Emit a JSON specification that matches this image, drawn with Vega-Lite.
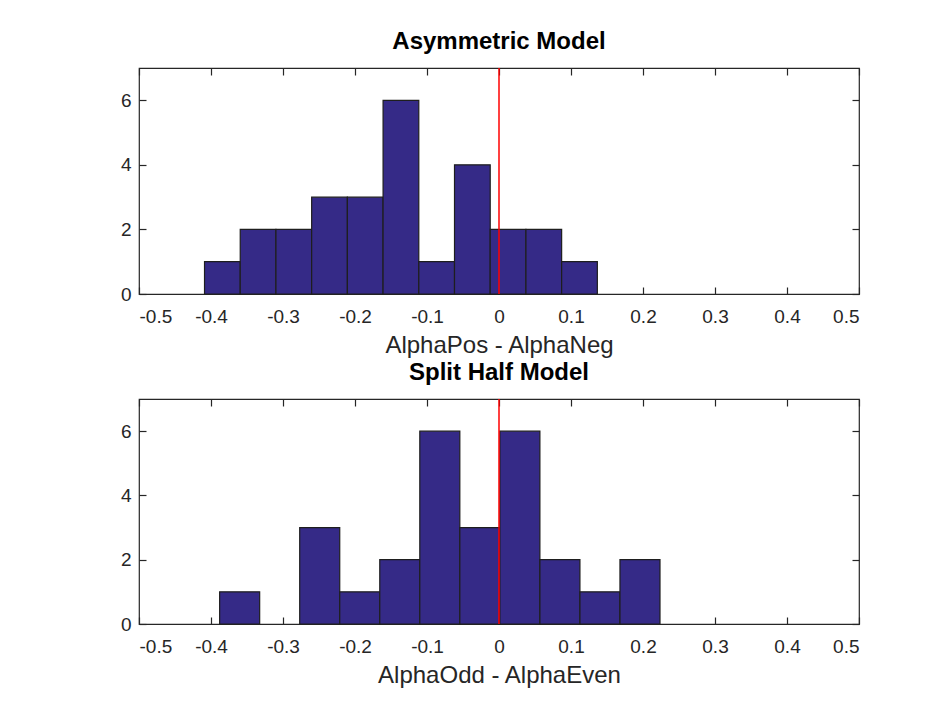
{
  "$schema": "https://vega.github.io/schema/vega-lite/v6.json",
  "background": "white",
  "padding": {"left": 119, "top": 29, "right": 10, "bottom": 5},
  "datasets": {
    "asym": [
      {"bin_start": -0.409, "bin_end": -0.3594, "count": 1},
      {"bin_start": -0.3594, "bin_end": -0.3098, "count": 2},
      {"bin_start": -0.3098, "bin_end": -0.2602, "count": 2},
      {"bin_start": -0.2602, "bin_end": -0.2106, "count": 3},
      {"bin_start": -0.2106, "bin_end": -0.161, "count": 3},
      {"bin_start": -0.161, "bin_end": -0.1114, "count": 6},
      {"bin_start": -0.1114, "bin_end": -0.0618, "count": 1},
      {"bin_start": -0.0618, "bin_end": -0.0122, "count": 4},
      {"bin_start": -0.0122, "bin_end": 0.0374, "count": 2},
      {"bin_start": 0.0374, "bin_end": 0.087, "count": 2},
      {"bin_start": 0.087, "bin_end": 0.1366, "count": 1}
    ],
    "split": [
      {"bin_start": -0.388, "bin_end": -0.3324, "count": 1},
      {"bin_start": -0.2768, "bin_end": -0.2212, "count": 3},
      {"bin_start": -0.2212, "bin_end": -0.1656, "count": 1},
      {"bin_start": -0.1656, "bin_end": -0.11, "count": 2},
      {"bin_start": -0.11, "bin_end": -0.0544, "count": 6},
      {"bin_start": -0.0544, "bin_end": 0.0012, "count": 3},
      {"bin_start": 0.0012, "bin_end": 0.0568, "count": 6},
      {"bin_start": 0.0568, "bin_end": 0.1124, "count": 2},
      {"bin_start": 0.1124, "bin_end": 0.168, "count": 1},
      {"bin_start": 0.168, "bin_end": 0.2236, "count": 2}
    ],
    "refline": [
      {"ref": 0, "lo": 0, "hi": 7}
    ]
  },
  "vconcat": [
    {
      "title": "Asymmetric Model",
      "width": 720,
      "height": 226,
      "layer": [
        {
          "data": {"name": "asym"},
          "mark": {"type": "rect", "fill": "#352a87", "stroke": "#1e1e1e", "strokeWidth": 1.2},
          "encoding": {
            "x": {"field": "bin_start", "type": "quantitative", "scale": {"domain": [-0.5, 0.5], "nice": false, "zero": false},
                  "axis": {"orient": "bottom", "title": "AlphaPos - AlphaNeg", "values": [-0.5,-0.4,-0.3,-0.2,-0.1,0,0.1,0.2,0.3,0.4,0.5],
                           "labelExpr": "replace(format(datum.value, '.1~f'), '\u2212', '-')"}},
            "x2": {"field": "bin_end"},
            "y": {"field": "count", "type": "quantitative", "scale": {"domain": [0, 7], "nice": false},
                  "axis": {"orient": "left", "title": null, "values": [0, 2, 4, 6], "labelPadding": 15}},
            "y2": {"datum": 0}
          }
        },
        {
          "data": {"name": "refline"},
          "mark": {"type": "rule", "color": "#ff0000", "strokeWidth": 1.5},
          "encoding": {
            "x": {"field": "ref", "type": "quantitative", "axis": {"orient": "top", "title": null, "labels": false, "values": [-0.5,-0.4,-0.3,-0.2,-0.1,0,0.1,0.2,0.3,0.4,0.5]}},
            "y": {"field": "lo", "type": "quantitative", "axis": {"orient": "right", "title": null, "labels": false, "values": [0, 2, 4, 6]}},
            "y2": {"field": "hi"}
          }
        }
      ],
      "resolve": {"axis": {"x": "independent", "y": "independent"}}
    },
    {
      "title": "Split Half Model",
      "width": 720,
      "height": 225,
      "layer": [
        {
          "data": {"name": "split"},
          "mark": {"type": "rect", "fill": "#352a87", "stroke": "#1e1e1e", "strokeWidth": 1.2},
          "encoding": {
            "x": {"field": "bin_start", "type": "quantitative", "scale": {"domain": [-0.5, 0.5], "nice": false, "zero": false},
                  "axis": {"orient": "bottom", "title": "AlphaOdd - AlphaEven", "values": [-0.5,-0.4,-0.3,-0.2,-0.1,0,0.1,0.2,0.3,0.4,0.5],
                           "labelExpr": "replace(format(datum.value, '.1~f'), '\u2212', '-')"}},
            "x2": {"field": "bin_end"},
            "y": {"field": "count", "type": "quantitative", "scale": {"domain": [0, 7], "nice": false},
                  "axis": {"orient": "left", "title": null, "values": [0, 2, 4, 6], "labelPadding": 15}},
            "y2": {"datum": 0}
          }
        },
        {
          "data": {"name": "refline"},
          "mark": {"type": "rule", "color": "#ff0000", "strokeWidth": 1.5},
          "encoding": {
            "x": {"field": "ref", "type": "quantitative", "axis": {"orient": "top", "title": null, "labels": false, "values": [-0.5,-0.4,-0.3,-0.2,-0.1,0,0.1,0.2,0.3,0.4,0.5]}},
            "y": {"field": "lo", "type": "quantitative", "axis": {"orient": "right", "title": null, "labels": false, "values": [0, 2, 4, 6]}},
            "y2": {"field": "hi"}
          }
        }
      ],
      "resolve": {"axis": {"x": "independent", "y": "independent"}}
    }
  ],
  "spacing": 2,
  "config": {
    "font": "Liberation Sans",
    "view": {"stroke": "#262626", "strokeWidth": 1.2},
    "axis": {
      "domain": false,
      "grid": false,
      "tickSize": -7,
      "tickColor": "#262626",
      "tickWidth": 1.2,
      "labelColor": "#262626",
      "labelFontSize": 19,
      "labelPadding": 20,
      "titleColor": "#262626",
      "titleFontSize": 24,
      "titleFontWeight": "normal",
      "titlePadding": 7
    },
    "title": {"fontSize": 24, "fontWeight": "bold", "color": "#000000", "offset": 13}
  }
}
